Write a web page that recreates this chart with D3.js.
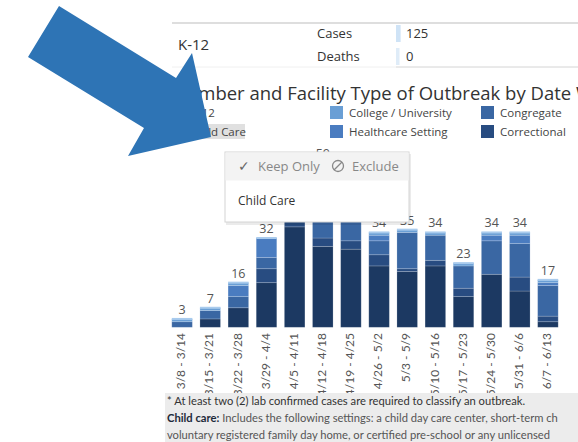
<!DOCTYPE html>
<html>
<head>
<meta charset="utf-8">
<script src="https://cdn.jsdelivr.net/npm/d3@7"></script>
<style>
  body { margin: 0; overflow: hidden; background: #fff; }
  svg { display: block; font-family: "Open Sans", "Noto Sans", sans-serif; }
</style>
</head>
<body>
<svg id="chart" width="578" height="442"></svg>
<script>
// weeks shown on the x axis
var weeks = ["3/8 - 3/14", "3/15 - 3/21", "3/22 - 3/28", "3/29 - 4/4", "4/5 - 4/11", "4/12 - 4/18",
	"4/19 - 4/25", "4/26 - 5/2", "5/3 - 5/9", "5/10 - 5/16", "5/17 - 5/23", "5/24 - 5/30", "5/31 - 6/6", "6/7 - 6/13"];
// facility types (top of stack first)
var facilities = ["K-12", "Child Care", "College / University", "Healthcare Setting", "Congregate", "Correctional", "Long Term Care"];
var facilityColors = ["#b7d5f1", "#8fb9e6", "#6a9fd5", "#4a7cc0", "#3a67a3", "#284c81", "#1c3962"];
// outbreak counts per facility type, one value per week
var k12 =         [0, 0, 0, 0, 0, 0, 0, 0, 0, 0, 0, 0, 0, 0];
var childCare =   [0, 0, 0, 0, 0, 1, 1, 0, 0, 0, 0, 0, 0, 0];
var college =     [1, 1, 1, 0, 0, 2, 1, 1, 1, 1, 1, 1, 1, 1];
var healthcare =  [0, 0, 4, 7, 2, 4, 3, 2, 0, 0, 0, 2, 3, 1];
var congregate =  [2, 3, 4, 4, 10, 20, 17, 5, 13, 9, 8, 12, 12, 11];
var correctional = [0, 0, 0, 5, 2, 3, 3, 4, 1, 2, 3, 0, 5, 2];
var longTermCare = [0, 3, 7, 16, 36, 29, 28, 22, 20, 22, 11, 19, 13, 2];
// header summary
var summaryLabels = ["Cases", "Deaths"];
var summaryValues = [125, 0];

var series = [k12, childCare, college, healthcare, congregate, correctional, longTermCare];
var svg = d3.select("#chart");

// ---- header table
svg.append("line").attr("x1", 172).attr("x2", 578).attr("y1", 23).attr("y2", 23)
	.attr("stroke", "#dedede").attr("stroke-width", 2);
svg.append("line").attr("x1", 172).attr("x2", 578).attr("y1", 67).attr("y2", 67)
	.attr("stroke", "#f0f0f0").attr("stroke-width", 1);
svg.append("line").attr("x1", 396).attr("x2", 578).attr("y1", 67).attr("y2", 67)
	.attr("stroke", "#dcdcdc").attr("stroke-width", 1);
svg.append("text").attr("x", 178).attr("y", 50).attr("font-size", 15).attr("fill", "#333").text("K-12");
var sumX = d3.scaleLinear().domain([0, 20000]).range([0, 180]);
summaryLabels.forEach(function(l, i) {
	var cy = 33 + i * 23;
	svg.append("text").attr("x", 317).attr("y", cy + 5).attr("font-size", 13).attr("fill", "#333").text(l);
	svg.append("rect").attr("x", 396).attr("y", cy - 8).attr("height", 17)
		.attr("width", Math.max(1.5, sumX(summaryValues[i]) + 3.5))
		.attr("fill", i == 0 ? "#cfe3f6" : "#dfecf8");
	svg.append("text").attr("x", 406).attr("y", cy + 5).attr("font-size", 13).attr("fill", "#333").text(summaryValues[i]);
});

// ---- title
svg.append("text").attr("x", 173).attr("y", 100).attr("font-size", 18.5).attr("fill", "#333")
	.text("Number and Facility Type of Outbreak by Date Week");

// ---- legend
var legendX = [172, 330, 481, 632];
svg.append("rect").attr("x", 189).attr("y", 124).attr("width", 56).attr("height", 15).attr("fill", "#e0e0e0");
facilities.forEach(function(f, i) {
	var lx = legendX[Math.floor(i / 2)], ly = 106 + (i % 2) * 19;
	svg.append("rect").attr("x", lx).attr("y", ly).attr("width", 13).attr("height", 13)
		.attr("fill", facilityColors[i]);
	svg.append("text").attr("x", lx + 19).attr("y", ly + 11).attr("font-size", 11.5)
		.attr("fill", "#444").text(f);
});

// ---- stacked bars
var table = weeks.map(function(w, i) {
	var row = {week: w};
	facilities.forEach(function(f, k) { row[f] = series[k][i]; });
	return row;
});
// bottom of the stack is the last facility
var stack = d3.stack().keys(facilities.slice().reverse())(table);
var totals = table.map(function(r) { return d3.sum(facilities, f => r[f]); });

var x = d3.scaleBand().domain(weeks).range([168, 562]).paddingInner(0.27).paddingOuter(0.135);
var y = d3.scaleLinear().domain([0, 60]).range([327.3, 327.3 - 60 * 2.79]);
var colorOf = d3.scaleOrdinal().domain(facilities).range(facilityColors);

var layers = svg.append("g").selectAll("g").data(stack).enter().append("g")
	.attr("fill", d => colorOf(d.key));
layers.selectAll("rect").data(d => d).enter().append("rect")
	.attr("x", d => x(d.data.week))
	.attr("width", x.bandwidth())
	.attr("y", d => y(d[1]))
	.attr("height", d => y(d[0]) - y(d[1]))
	.attr("stroke", "rgba(255,255,255,0.22)")
	.attr("stroke-width", 0.8);
// light edge on top of each bar
svg.append("g").selectAll("rect").data(table).enter().append("rect")
	.attr("x", d => x(d.week))
	.attr("width", x.bandwidth())
	.attr("y", (d, i) => y(totals[i]) - 1)
	.attr("height", 2)
	.attr("fill", "#a9cbed");

// totals above bars
svg.append("g").selectAll("text").data(table).enter().append("text")
	.attr("x", d => x(d.week) + x.bandwidth() / 2)
	.attr("y", (d, i) => y(totals[i]) - 5)
	.attr("text-anchor", "middle")
	.attr("font-size", 12.5)
	.attr("fill", "#555")
	.text((d, i) => totals[i]);

// x axis labels, rotated
var xAxis = svg.append("g").attr("transform", "translate(0,327)")
	.call(d3.axisBottom(x).tickSize(0).tickPadding(6));
xAxis.select(".domain").remove();
xAxis.selectAll("text")
	.attr("font-size", 12)
	.attr("font-family", "Lato, 'Open Sans', sans-serif")
	.attr("fill", "#555")
	.attr("text-anchor", "end")
	.attr("transform", "rotate(-90)")
	.attr("x", -6).attr("y", -1).attr("dy", "0.35em");

// ---- footnote box
svg.append("rect").attr("x", 165).attr("y", 393).attr("width", 413).attr("height", 49).attr("fill", "#ececec");
var noteFont = "Lato, 'Open Sans', sans-serif";
svg.append("text").attr("x", 167).attr("y", 405).attr("font-size", 11.2).attr("font-family", noteFont)
	.attr("fill", "#333")
	.text("* At least two (2) lab confirmed cases are required to classify an outbreak.");
var n2 = svg.append("text").attr("x", 167).attr("y", 422).attr("font-size", 11.2).attr("font-family", noteFont)
	.attr("fill", "#555");
n2.append("tspan").attr("font-weight", "bold").attr("fill", "#1d2a3a").text("Child care:");
n2.append("tspan").text(" Includes the following settings: a child day care center, short-term ch");
svg.append("text").attr("x", 167).attr("y", 439).attr("font-size", 11.2).attr("font-family", noteFont)
	.attr("fill", "#555")
	.text("voluntary registered family day home, or certified pre-school or any unlicensed");

// ---- action tooltip popup
var pop = svg.append("g").attr("transform", "translate(225,152)");
pop.append("rect").attr("x", 1).attr("y", 2).attr("width", 185).attr("height", 71)
	.attr("fill", "rgba(0,0,0,0.08)");
pop.append("rect").attr("width", 184).attr("height", 70).attr("fill", "#fff")
	.attr("stroke", "#d4d4d4");
pop.append("rect").attr("x", 0.5).attr("y", 0.5).attr("width", 183).attr("height", 28).attr("fill", "#f3f3f3");
pop.append("text").attr("x", 13).attr("y", 19).attr("font-size", 14).attr("fill", "#666").text("\u2713");
pop.append("text").attr("x", 33).attr("y", 19).attr("font-size", 13).attr("fill", "#888").text("Keep Only");
pop.append("circle").attr("cx", 113).attr("cy", 14).attr("r", 5.5).attr("fill", "none")
	.attr("stroke", "#888").attr("stroke-width", 1.3);
pop.append("line").attr("x1", 109).attr("y1", 18).attr("x2", 117).attr("y2", 10)
	.attr("stroke", "#888").attr("stroke-width", 1.3);
pop.append("text").attr("x", 127).attr("y", 19).attr("font-size", 13).attr("fill", "#888").text("Exclude");
pop.append("text").attr("x", 13).attr("y", 53).attr("font-size", 12).attr("fill", "#333").text("Child Care");

// ---- annotation arrow
var arrowPts = [[59, 6], [176, 78], [192, 53], [211, 137], [128, 156], [144, 128], [28, 57]];
svg.append("polygon").attr("points", arrowPts.map(p => p.join(",")).join(" "))
	.attr("fill", "#2e74b5");
</script>
</body>
</html>
